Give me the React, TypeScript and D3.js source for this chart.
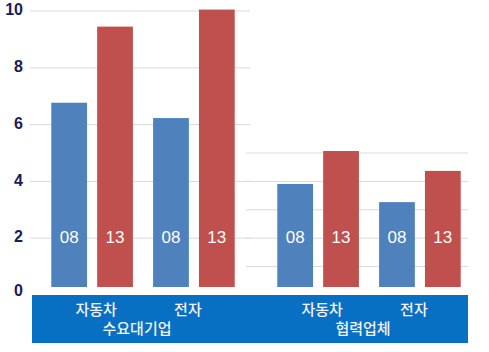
import React from "react";
import * as d3 from "d3";

const panels = ["수요대기업", "협력업체"];
const categories = ["자동차", "전자"];
const series = ["08", "13"];
const values08 = [[6.77, 6.23], [3.91, 3.27]];
const values13 = [[9.45, 10.05], [5.07, 4.37]];
const leftTicks = [0, 2, 4, 6, 8, 10];
const leftGrid = [2, 4, 6, 8, 10];
const rightGrid = [1, 2, 3, 4, 5];

const W = 489, H = 352;
const colors: Record<string, string> = { "08": "#4f81bd", "13": "#c0504d" };

export default function App() {
  const y = d3.scaleLinear().domain([0, 10]).range([295, 11]);
  const xPanel = d3.scaleBand<string>().domain(panels).range([30, 482]).padding(0);
  const xCat = d3.scaleBand<string>().domain(categories).range([0, xPanel.bandwidth()]).paddingInner(0).paddingOuter(0.11);
  const xSer = d3.scaleBand<string>().domain(series).range([0, xCat.step()]).padding(0.22);
  const barBottom = y(0) - 8;
  const data = [values08, values13];

  return (
    <svg width={W} height={H} style={{ position: "absolute", left: 0, top: 0, background: "#fff" }}>
      {leftGrid.map((t) => (
        <line key={"lg" + t} x1={30} x2={250} y1={y(t)} y2={y(t)} stroke="#d9d9d9" strokeWidth={1} />
      ))}
      {rightGrid.map((t) => (
        <line key={"rg" + t} x1={246} x2={468} y1={y(t)} y2={y(t)} stroke="#d9d9d9" strokeWidth={1} />
      ))}
      {leftTicks.map((t) => (
        <text key={"t" + t} x={23} y={t === 0 ? y(0) - 3 : y(t)} textAnchor="end" dominantBaseline="middle"
          fontFamily="'Liberation Sans', Arial, sans-serif" fontWeight="bold" fontSize={16} fill="#1a1a5c">
          {t}
        </text>
      ))}
      {panels.map((p, pi) =>
        categories.map((c, ci) =>
          series.map((s, si) => {
            const v = data[si][pi][ci];
            const x0 = (xPanel(p) ?? 0) + (xCat(c) ?? 0) + (xSer(s) ?? 0);
            const yt = y(v);
            return (
              <g key={p + c + s}>
                <rect x={x0} y={yt} width={xSer.bandwidth()} height={barBottom - yt} fill={colors[s]} />
                <text x={x0 + xSer.bandwidth() / 2} y={y(2)} textAnchor="middle" dominantBaseline="middle"
                  fontFamily="'Liberation Sans', Arial, sans-serif" fontSize={17} fill="#fff">
                  {s}
                </text>
              </g>
            );
          })
        )
      )}
      <rect x={32} y={295} width={436} height={48} fill="#0870c2" />
      {panels.map((p) => (
        <g key={"lab" + p}>
          {categories.map((c, ci) => (
            <text key={c} x={(xPanel(p) ?? 0) + (xCat(c) ?? 0) + xCat.bandwidth() / 2 + (ci === 0 ? 4 : -6)} y={311}
              textAnchor="middle" dominantBaseline="middle" fontFamily="'Noto Sans CJK KR', sans-serif"
              fontWeight={500} fontSize={15} fill="#f2f2f2">
              {c}
            </text>
          ))}
          <text x={(xPanel(p) ?? 0) + xPanel.bandwidth() / 2 - 6} y={330} textAnchor="middle" dominantBaseline="middle"
            fontFamily="'Noto Sans CJK KR', sans-serif" fontWeight={500} fontSize={15} fill="#f2f2f2">
            {p}
          </text>
        </g>
      ))}
    </svg>
  );
}
